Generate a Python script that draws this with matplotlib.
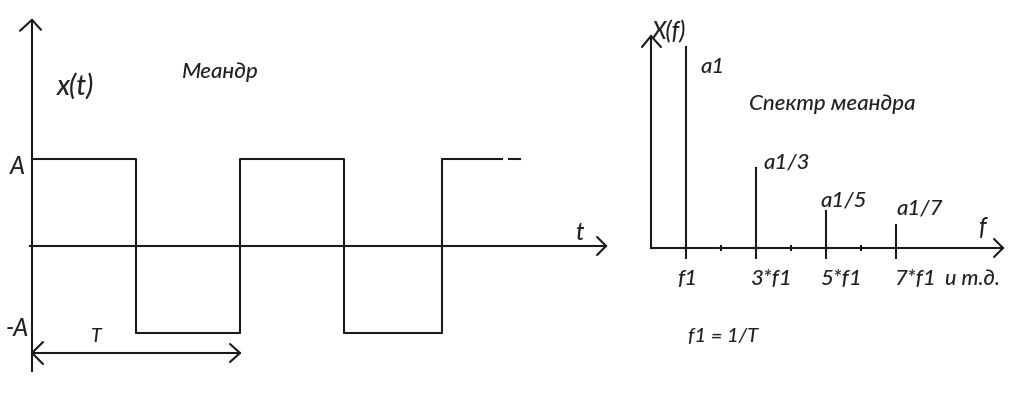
import matplotlib
matplotlib.use('Agg')
import matplotlib.pyplot as plt

plt.rcParams.update({
    'font.family': ['Lato', 'DejaVu Sans'],
    'font.style': 'italic',
    'font.weight': 'medium',
})

INK = '#1a1a1a'
TXT = '#222222'
LW = 1.5

# square wave: switching times (in units of T) and levels (in units of A)
edge_times = [0.0, 0.5, 1.0, 1.5, 1.97]
edge_levels = [1, -1, 1, -1, 1]
wave_end = 2.26
period_arrow = [0.0, 1.0]

# spectrum: harmonics (in units of f1) and relative amplitudes
harmonics = [1, 3, 5, 7]
amplitudes = [1.0, 0.40, 0.19, 0.12]
amp_labels = ['a1', 'a1/3', 'a1/5', 'a1/7']
tick_labels = ['f1', '3*f1', '5*f1', '7*f1']
even_ticks = [2, 4, 6]

W, H = 1013, 404
fig = plt.figure(figsize=(W / 100, H / 100), dpi=100)

# left panel, scaled so that 1 T = 208 px and 1 A = 87 px
T_PX, A_PX = 208.0, 87.0
x0, y0 = 32, 158
axl = fig.add_axes([0, 0, 1, 1])
axl.set_xlim(-x0 / T_PX, (W - x0) / T_PX)
axl.set_ylim(-y0 / A_PX, (H - y0) / A_PX)
axl.axis('off')

# right panel, scaled so that f1 = 35 px and a1 = 202 px
F_PX, M_PX = 35.0, 202.0
fx0, fy0 = 651, 156
axr = fig.add_axes([0, 0, 1, 1])
axr.set_xlim(-fx0 / F_PX, (W - fx0) / F_PX)
axr.set_ylim(-fy0 / M_PX, (H - fy0) / M_PX)
axr.axis('off')
axr.patch.set_alpha(0)


def vee(ax, x, y, sx, sy, pts):
    # open arrow head drawn in pixel offsets from (x, y)
    xs = [x + px / sx for px, _ in pts]
    ys = [y + py / sy for _, py in pts]
    ax.plot(xs, ys, color=INK, lw=LW, solid_capstyle='round')


# ---- left: meander ----
axl.plot([0, 0], [-1.44, 2.6], color=INK, lw=LW)
vee(axl, 0, 2.6, T_PX, A_PX, [(-12, -11), (0, 0), (9, -10)])
axl.plot([-0.01, 2.76], [0, 0], color=INK, lw=LW)
vee(axl, 2.76, 0, T_PX, A_PX, [(-9, 9), (0, 0), (-9, -9)])

wx, wy = [], []
for i, t in enumerate(edge_times):
    wx += [t, t]
    wy += [edge_levels[i - 1] if i else 1, edge_levels[i]]
wx.append(wave_end)
wy.append(edge_levels[-1])
axl.plot(wx, wy, color=INK, lw=LW)
axl.plot([wave_end + 0.035, wave_end + 0.085], [1, 1], color=INK, lw=LW)

ya = -107 / A_PX
axl.plot(period_arrow, [ya, ya], color=INK, lw=LW)
vee(axl, period_arrow[0], ya, T_PX, A_PX, [(11, 11), (0, 0), (11, -11)])
vee(axl, period_arrow[1], ya, T_PX, A_PX, [(-10, 9), (0, 0), (-10, -9)])

axl.text(25 / T_PX, 160 / A_PX, 'x(t)', fontsize=20, color=TXT, va='center')
axl.text(150 / T_PX, 174 / A_PX, 'Меандр', fontsize=16, color=TXT, va='center')
axl.text(-15 / T_PX, 1 - 8 / A_PX, 'A', fontsize=17, color=TXT, ha='center', va='center')
axl.text(-15 / T_PX, -83 / A_PX, '-A', fontsize=17, color=TXT, ha='center', va='center')
axl.text(0.31, -90 / A_PX, 'T', fontsize=14, color=TXT, ha='center', va='center')
axl.text(2.63, 13 / A_PX, 't', fontsize=17, color=TXT, ha='center', va='center')

# ---- right: spectrum ----
axr.plot([0, 0], [0, 212 / M_PX], color=INK, lw=LW)
vee(axr, 0, 212 / M_PX, F_PX, M_PX, [(-9, -11), (0, 0), (10, -11)])
axr.plot([0, 352 / F_PX], [0, 0], color=INK, lw=LW)
vee(axr, 352 / F_PX, 0, F_PX, M_PX, [(-9, 9), (0, 0), (-9, -9)])

axr.vlines(harmonics, -11 / M_PX, amplitudes, color=INK, lw=LW)
axr.vlines(even_ticks, -3 / M_PX, 3 / M_PX, color=INK, lw=LW)

lab_dx = [14, 7, -6, 0]
lab_dy = [181, 85, 47, 39]
axr.text(1 / F_PX, 216 / M_PX, 'X(f)', fontsize=17, color=TXT, va='center')
for h, lab, dx, dy in zip(harmonics, amp_labels, lab_dx, lab_dy):
    axr.text(h + dx / F_PX, dy / M_PX, lab, fontsize=16, color=TXT, va='center')
axr.text(2.8, 144 / M_PX, 'Спектр меандра', fontsize=16, color=TXT, va='center')
tick_dx = [-9, -6, -6, -2]
for h, lab, dx in zip(harmonics, tick_labels, tick_dx):
    axr.text(h + dx / F_PX, -31 / M_PX, lab, fontsize=16, color=TXT, va='center')
axr.text(8.4, -31 / M_PX, 'и т.д.', fontsize=15.5, color=TXT, va='center')
axr.text(1.06, -89 / M_PX, 'f1 = 1/T', fontsize=14.5, color=TXT, va='center')
axr.text(9.45, 20 / M_PX, 'f', fontsize=17, color=TXT, ha='center', va='center')

fig.savefig('out.png', dpi=100, facecolor='white')
